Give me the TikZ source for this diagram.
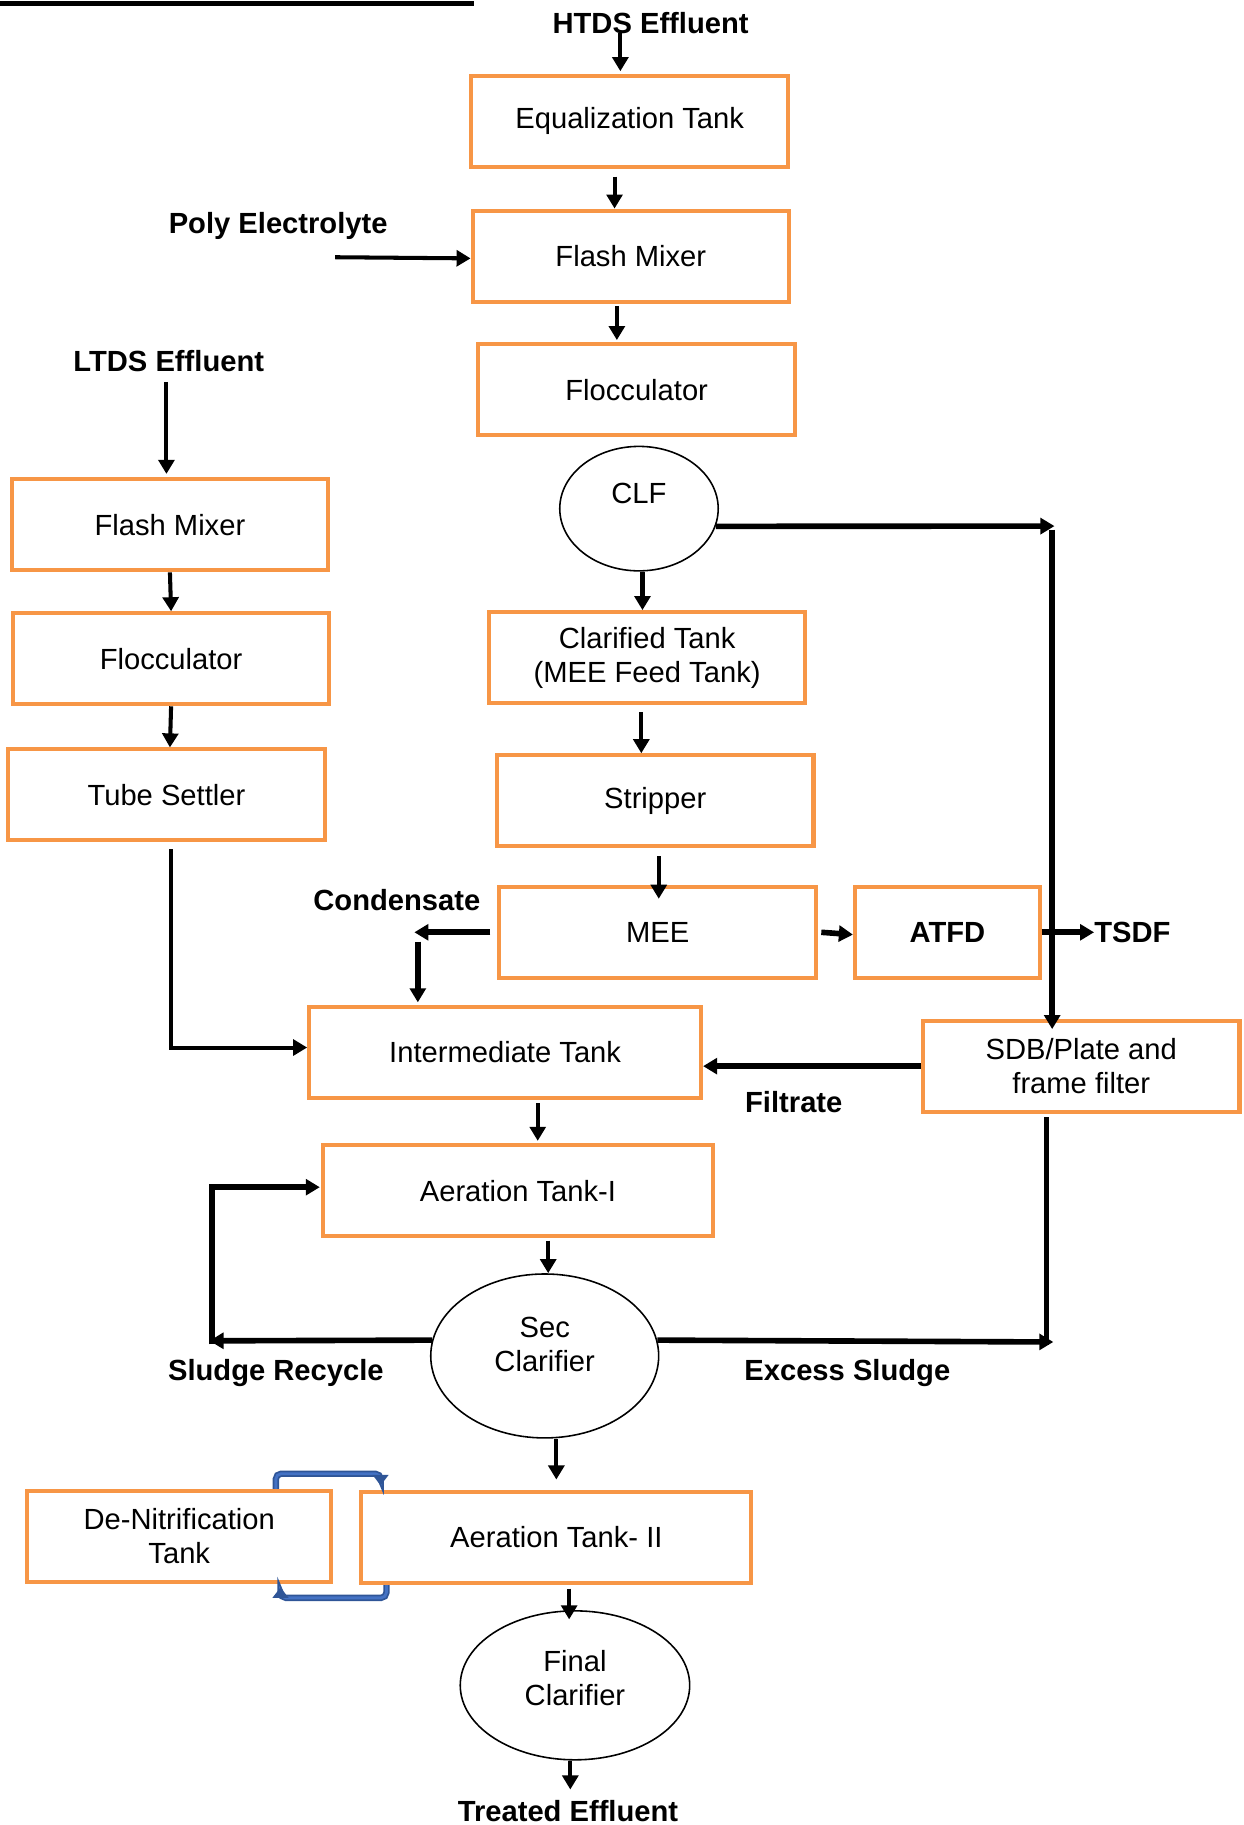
\documentclass[tikz,border=0pt]{standalone}
\usepackage{fontspec}
\setmainfont{Liberation Sans}
\usepackage{xcolor}
\usepackage{tikz}
\usetikzlibrary{shapes.geometric, arrows.meta, calc}

\definecolor{tankorange}{HTML}{F79646}
\definecolor{loopblue}{HTML}{2F5597}
\definecolor{loopinner}{HTML}{4472C4}
\newcommand{\flowfont}{\fontsize{16.6}{19.5}\selectfont}

\begin{document}
\begin{tikzpicture}[x=0.023278cm, y=-0.023278cm, font=\flowfont]
        % Define styles
        \tikzset{
            unit/.style={rectangle, draw=tankorange, line width=2.3pt, minimum width=6.33cm, minimum height=1.82cm, align=center, inner sep=0pt},
            settler/.style={ellipse, draw, line width=0.9pt, inner sep=0pt},
            flowlabel/.style={font=\flowfont\bfseries, inner sep=0pt},
            arrow/.style={->, >={Triangle[length=8pt, width=9pt]}, line width=2.3pt},
            heavy/.style={arrow, line width=3.2pt},
            pipe/.style={line width=3pt},
            recirc/.style={->, >={Triangle[length=6pt, width=9pt, fill=loopblue]}, draw=loopblue, line width=1pt, double=loopinner, double distance=1.6pt, rounded corners=3pt}
        }
        \useasboundingbox (0,0) rectangle (1068,1568);
        \draw[line width=2.3pt] (0,3) -- (407,3);

        % HTDS line
        \node[flowlabel] (htds) at (559,20) {HTDS Effluent};
        \node[unit] (eq_tank) at (541,104) {Equalization Tank};
        \node[flowlabel] (poly) at (239,194) {Poly Electrolyte};
        \node[unit] (flash_mixer_1) at (542,220) {Flash Mixer};
        \node[unit] (flocculator_1) at (547,335) {Flocculator};
        \node[settler, minimum width=3.17cm, minimum height=2.49cm] (clf) at (549,437) {};
        \node[] (clf_text) at (549,424) {CLF};
        \node[unit] (clarified_tank) at (556,565) {Clarified Tank\\(MEE Feed Tank)};
        \node[unit] (stripper) at (563,688) {Stripper};
        \node[unit] (mee) at (565,801) {MEE};
        \node[flowlabel] (condensate) at (341,773) {Condensate};
        \node[unit, minimum width=3.70cm, font=\flowfont\bfseries] (atfd) at (814,801) {ATFD};
        \node[flowlabel] (tsdf) at (973,801) {TSDF};
        \node[unit] (sdb) at (929,916) {SDB/Plate and\\frame filter};
        \node[flowlabel] (filtrate) at (682,947) {Filtrate};

        % LTDS line
        \node[flowlabel] (ltds) at (145,310) {LTDS Effluent};
        \node[unit] (flash_mixer_2) at (146,451) {Flash Mixer};
        \node[unit] (flocculator_2) at (147,566) {Flocculator};
        \node[unit] (tube_settler) at (143,683) {Tube Settler};

        % Biological treatment
        \node[unit, minimum width=7.84cm] (intermediate) at (434,904) {Intermediate Tank};
        \node[unit, minimum width=7.80cm] (aeration_1) at (445,1023) {Aeration Tank-I};
        \node[settler, minimum width=4.56cm, minimum height=3.28cm] (sec_clarifier) at (468,1165) {};
        \node[align=center] (sec_text) at (468,1155) {Sec\\Clarifier};
        \node[flowlabel] (sludge) at (237,1180) {Sludge Recycle};
        \node[flowlabel] (excess) at (728,1180) {Excess Sludge};
        \node[unit, minimum width=6.08cm] (denitrification) at (154,1320) {De-Nitrification\\Tank};
        \node[unit, minimum width=7.80cm] (aeration_2) at (478,1321) {Aeration Tank- II};
        \node[settler, minimum width=4.59cm, minimum height=2.98cm] (final_clarifier) at (494,1448) {};
        \node[align=center] (final_text) at (494,1442) {Final\\Clarifier};
        \node[flowlabel] (treated) at (488,1556) {Treated Effluent};

        % Arrows
        \draw[arrow] ($(htds)+(-26,8)$) -- ($(eq_tank.north)+(-8,-2)$);
        \draw[arrow] ($(eq_tank.south)+(-13,7)$) -- ($(flash_mixer_1.north)+(-14,0)$);
        \draw[arrow] ($(poly)+(49,27)$) -- ($(flash_mixer_1.west)+(0,2)$);
        \draw[arrow] ($(flash_mixer_1.south)+(-12,2)$) -- ($(flocculator_1.north)+(-17,-2)$);
        \draw[arrow] ($(clf.south)+(3,0)$) -- ($(clarified_tank.north)+(-4,0)$);
        \coordinate (clf_turn) at (906,452);
        \draw[heavy] (clf.347) -- (clf_turn);
        \draw[heavy] ($(clf_turn)+(-2,3)$) -- ($(sdb.north)+(-25,9)$);
        \draw[arrow] ($(clarified_tank.south)+(-5,6)$) -- ($(stripper.north)+(-12,0)$);
        \draw[arrow] ($(stripper.south)+(3,7)$) -- ($(mee.north)+(1,12)$);
        \coordinate (cond_turn) at (356,801);
        \draw[heavy] ($(mee.west)+(-6,0)$) -- (cond_turn);
        \draw[heavy] ($(cond_turn)+(3,8)$) -- ($(intermediate.north)+(-75,-2)$);
        \draw[heavy] ($(mee.east)+(3,0)$) -- ($(atfd.west)+(0,2)$);
        \draw[heavy] (atfd.east) -- (tsdf.west);
        \draw[heavy] (sdb.west) -- (sdb.west -| intermediate.east);

        \draw[arrow] ($(ltds)+(-2,18)$) -- ($(flash_mixer_2.north)+(-3,-3)$);
        \draw[arrow] (flash_mixer_2.south) -- (flocculator_2.north);
        \draw[arrow] (flocculator_2.south) -- ($(tube_settler.north)+(3,0)$);
        \draw[arrow] ($(tube_settler.south)+(4,6)$) |- ($(intermediate.west)+(0,-4)$);

        \draw[arrow] ($(intermediate.south)+(28,3)$) -- ($(aeration_1.north)+(17,-2)$);
        \draw[arrow] ($(aeration_1.south)+(26,2)$) -- ($(sec_clarifier.north)+(3,0)$);
        \coordinate (recycle_turn) at (180,1152);
        \draw[heavy] (sec_clarifier.172) -- (recycle_turn);
        \draw[heavy] ($(recycle_turn)+(2,3)$) |- ($(aeration_1.west)+(-1,-3)$);
        \coordinate (excess_turn) at (905,1153);
        \draw[heavy] (sec_clarifier.8) -- (excess_turn);
        \draw[pipe] ($(sdb.south)+(-30,3)$) -- ++(0,196);
        \draw[arrow] ($(sec_clarifier.south)+(10,0)$) -- ($(aeration_2.north)+(0,-9)$);
        \draw[arrow] ($(aeration_2.south)+(11,3)$) -- ($(final_clarifier.north)+(-5,8)$);
        \draw[arrow] ($(final_clarifier.south)+(-4,0)$) -- ($(treated.north)+(2,-9)$);

        % Recirculation
        \draw[recirc] ($(denitrification.north)+(83,0)$) -- ++(0,-13) -| ($(aeration_2.north)+(-151,-4)$);
        \draw[recirc] ($(aeration_2.south)+(-146,0)$) -- ++(0,11) -| ($(denitrification.south)+(87,3)$);
    \end{tikzpicture}
\end{document}
